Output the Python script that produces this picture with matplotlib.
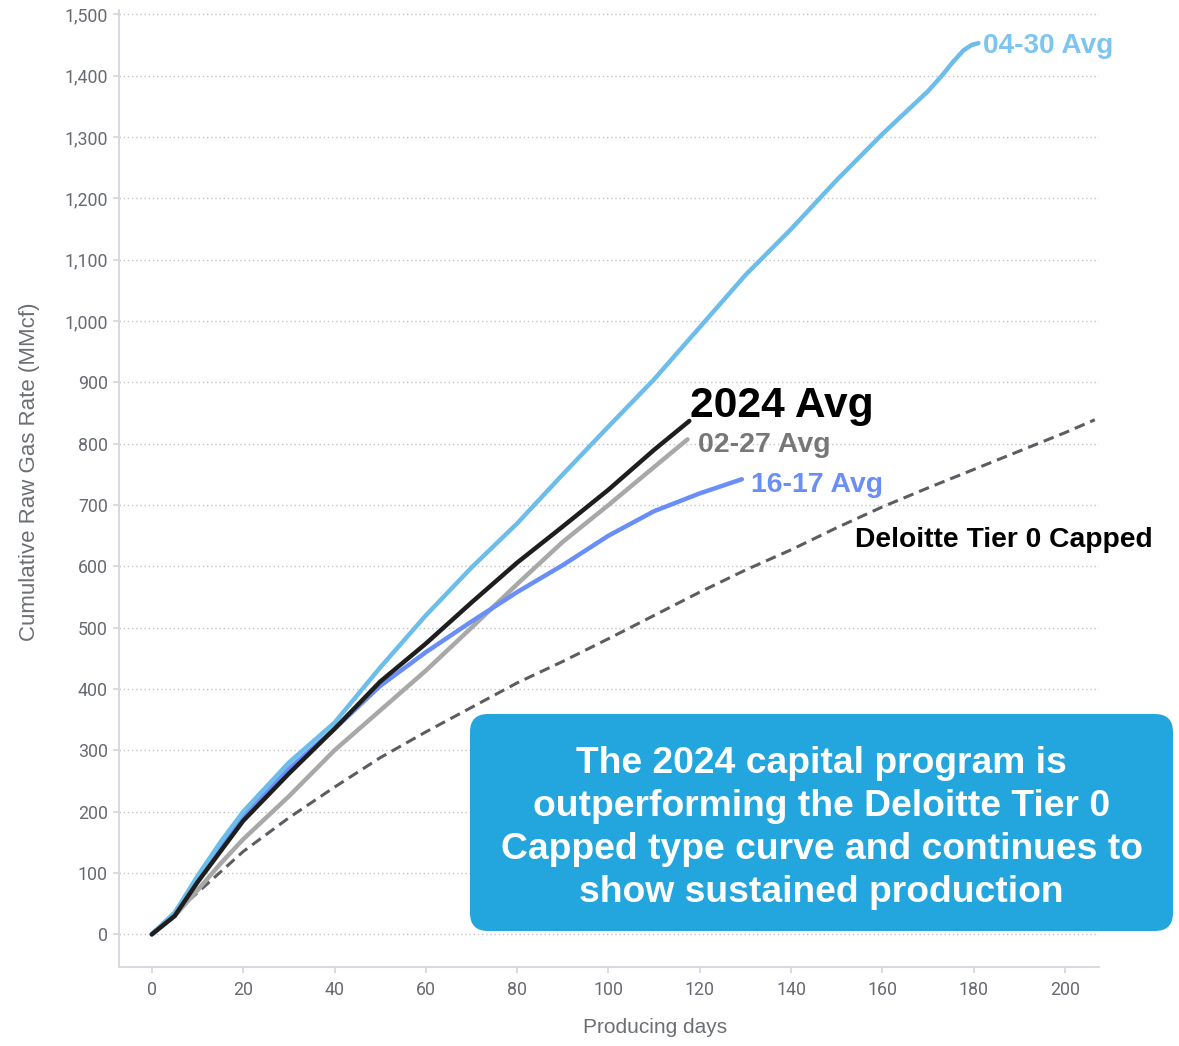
import matplotlib.pyplot as plt
from matplotlib.patches import FancyBboxPatch


# -----------------------------
# Data
# -----------------------------
days_0430 = [0, 5, 10, 15, 20, 30, 40, 50, 60, 70, 80, 90, 100, 110, 120,
             130, 140, 150, 160, 170, 173, 175.5, 177.7, 179.5, 181]
cum_0430 = [0, 35, 95, 150, 200, 280, 345, 435, 520, 598, 670, 750, 828, 905, 990,
            1075, 1150, 1230, 1305, 1375, 1400, 1423, 1441, 1450, 1453]

days_2024 = [0, 5, 10, 15, 20, 30, 40, 50, 60, 70, 80, 90, 100, 110, 117.7]
cum_2024 = [0, 30, 85, 135, 185, 262, 335, 412, 474, 541, 606, 665, 725, 790, 837]

days_0227 = [0, 5, 10, 15, 20, 30, 40, 50, 60, 70, 80, 90, 100, 110, 117.3]
cum_0227 = [0, 30, 72, 115, 155, 225, 300, 365, 430, 500, 571, 640, 700, 762, 807]

days_1617 = [0, 5, 10, 15, 20, 30, 40, 50, 60, 70, 80, 90, 100, 110, 120, 129.2]
cum_1617 = [0, 35, 88, 140, 190, 270, 335, 405, 460, 510, 558, 602, 650, 690, 719, 742]

days_deloitte = [0, 5, 10, 20, 30, 40, 50, 60, 70, 80, 90, 100, 110, 120,
                 130, 140, 150, 160, 170, 180, 190, 200, 206.5]
cum_deloitte = [0, 35, 68, 135, 190, 240, 288, 330, 370, 410, 445, 482, 520, 558,
                594, 627, 663, 697, 728, 758, 788, 818, 839]

x_ticks = [0, 20, 40, 60, 80, 100, 120, 140, 160, 180, 200]
y_ticks = [0, 100, 200, 300, 400, 500, 600, 700, 800, 900, 1000, 1100, 1200, 1300, 1400, 1500]


# -----------------------------
# Figure / axes
# -----------------------------
fig = plt.figure(figsize=(11.79, 10.46), dpi=100)
ax = fig.add_axes([0.1009, 0.0752, 0.8312, 0.9152])

ax.set_xlim(-7.2, 207.4)
ax.set_ylim(-53.8, 1507)

spine_col = "#d3d6df"
tick_col = "#676a70"
label_col = "#6b6e73"
arial = ["Liberation Sans", "DejaVu Sans"]

for s in ["top", "right"]:
    ax.spines[s].set_visible(False)
for s in ["left", "bottom"]:
    ax.spines[s].set_color(spine_col)
    ax.spines[s].set_linewidth(1.3)

ax.set_xticks(x_ticks)
ax.set_yticks(y_ticks)
ax.set_yticklabels([f"{v:,}" for v in y_ticks])
ax.tick_params(axis="both", colors=spine_col, length=4.5, width=1.2,
               labelcolor=tick_col, labelsize=12.8)
ax.tick_params(axis="x", pad=5)
ax.tick_params(axis="y", pad=3.5)
for lab in ax.get_xticklabels() + ax.get_yticklabels():
    lab.set_family("Roboto")

ax.grid(axis="y", color="#c4c4c4", linestyle=(0, (1, 2)), linewidth=1)
ax.set_axisbelow(True)

ax.set_xlabel("Producing days", family=arial, fontsize=15, color=label_col)
ax.xaxis.set_label_coords(0.547, -0.053)
ax.set_ylabel("Cumulative Raw Gas Rate (MMcf)", family=arial, fontsize=16,
              color=label_col)
ax.yaxis.set_label_coords(-0.081, 0.518)


# -----------------------------
# Curves
# -----------------------------
ax.plot(days_deloitte, cum_deloitte, color="#5c5d63", linewidth=2.2,
        linestyle=(0, (3.5, 2)), zorder=3)
ax.plot(days_0227, cum_0227, color="#a8a8a8", linewidth=3.2, zorder=4,
        solid_capstyle="round", solid_joinstyle="round")
ax.plot(days_1617, cum_1617, color="#6a8ef8", linewidth=3.2, zorder=4,
        solid_capstyle="round", solid_joinstyle="round")
ax.plot(days_0430, cum_0430, color="#6cbdea", linewidth=3.2, zorder=5,
        solid_capstyle="round", solid_joinstyle="round")
ax.plot(days_2024, cum_2024, color="#1e1e1e", linewidth=3.2, zorder=6,
        solid_capstyle="round", solid_joinstyle="round")


# -----------------------------
# Curve labels
# -----------------------------
ax.text(182, 1436.5, "04-30 Avg", color="#7dc4ee", fontsize=20.2,
        fontweight="bold", family=arial, va="baseline")
ax.text(117.9, 844, "2024 Avg", color="black", fontsize=30.6,
        fontweight="bold", family=arial, va="baseline")
ax.text(119.7, 787, "02-27 Avg", color="#777777", fontsize=20.5,
        fontweight="bold", family=arial, va="baseline")
ax.text(131.2, 721.7, "16-17 Avg", color="#6a8ef8", fontsize=20.4,
        fontweight="bold", family=arial, va="baseline")
ax.text(154, 632, "Deloitte Tier 0 Capped", color="black", fontsize=20.3,
        fontweight="bold", family=arial, va="baseline")


# -----------------------------
# Call-out box
# -----------------------------
box = FancyBboxPatch((4.70, 1.15), 7.03, 2.17,
                     boxstyle="round,pad=0,rounding_size=0.18",
                     transform=fig.dpi_scale_trans,
                     facecolor="#22a6dd", edgecolor="none", zorder=10)
fig.patches.append(box)

fig.text(8.215 / 11.79, 2.18 / 10.46,
         "The 2024 capital program is\n"
         "outperforming the Deloitte Tier 0\n"
         "Capped type curve and continues to\n"
         "show sustained production",
         color="white", fontsize=26.8, fontweight="bold", family=arial,
         ha="center", va="center", linespacing=1.3, zorder=11)

fig.savefig("out.png", dpi=100)
plt.close(fig)
